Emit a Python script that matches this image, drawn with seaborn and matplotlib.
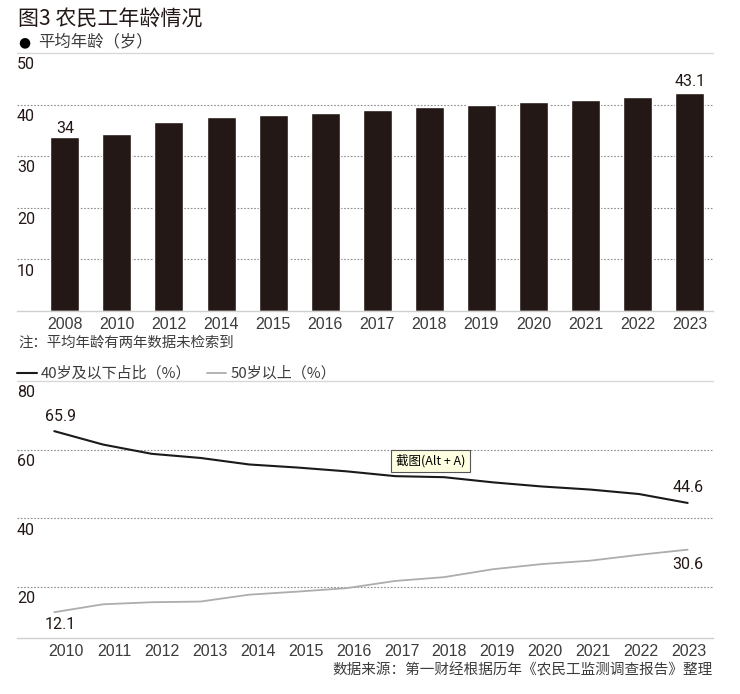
import numpy as np
import pandas as pd
import seaborn as sns
import matplotlib.pyplot as plt

# 数据
bar_years = ['2008', '2010', '2012', '2014', '2015', '2016', '2017', '2018', '2019', '2020', '2021', '2022', '2023']
avg_age = [33.8, 34.3, 36.6, 37.5, 37.9, 38.3, 39.0, 39.5, 40.0, 40.6, 40.9, 41.5, 42.2]
bar_labels = ['34', '', '', '', '', '', '', '', '', '', '', '', '43.1']
bar_ticks = [10, 20, 30, 40, 50]

line_years = [2010, 2011, 2012, 2013, 2014, 2015, 2016, 2017, 2018, 2019, 2020, 2021, 2022, 2023]
under_40 = [65.4, 61.5, 58.8, 57.6, 55.7, 54.8, 53.7, 52.3, 52.0, 50.5, 49.3, 48.4, 47.1, 44.5]
over_50 = [12.7, 15.0, 15.6, 15.8, 17.8, 18.7, 19.7, 21.8, 22.9, 25.2, 26.7, 27.7, 29.4, 30.9]
line_ticks = [20, 40, 60, 80]

sns.set_theme(style='white')
plt.rcParams['font.family'] = ['Noto Sans CJK SC', 'DejaVu Sans']

W, H = 740, 694
BLACK = '#231815'
GRID = '#8c8c8c'
NUM_FONT = 'Roboto'
YEAR_FONT = 'Liberation Sans'

fig = plt.figure(figsize=(W / 100, H / 100), dpi=100, facecolor='white')


def make_axes(top, bottom):
    return fig.add_axes([17 / W, 1 - bottom / H, (713 - 17) / W, (bottom - top) / H])


def style_axes(ax, ticks):
    for side in ['top', 'left', 'right']:
        ax.spines[side].set_visible(False)
    ax.spines['bottom'].set_color('#d0d0d0')
    ax.spines['bottom'].set_linewidth(1)
    ax.set_xlabel('')
    ax.set_ylabel('')
    ax.set_yticks([])
    ax.set_axisbelow(True)
    ax.tick_params(axis='x', length=0, pad=4, labelsize=11.5, labelcolor='#3c3c3c')
    for label in ax.get_xticklabels():
        label.set_fontfamily(YEAR_FONT)
    # 网格线与左侧数字
    for t in ticks:
        if t == ticks[-1]:
            ax.axhline(t, color='#d8d8d8', lw=1, clip_on=False)
        else:
            ax.axhline(t, color=GRID, lw=0.8, ls=(0, (1.5, 1.5)), zorder=0)
        ax.annotate(str(t), (0, t), xycoords=ax.get_yaxis_transform(), xytext=(0, -3),
                    textcoords='offset points', ha='left', va='top', fontsize=11.5,
                    fontfamily=NUM_FONT, color=BLACK, annotation_clip=False)


# 上图：平均年龄
ax1 = make_axes(53, 311)
df_bar = pd.DataFrame({'year': bar_years, 'age': avg_age})
sns.barplot(data=df_bar, x='year', y='age', color=BLACK, saturation=1, width=0.557, ax=ax1)
ax1.set_xlim(-0.918, 12.447)
ax1.set_ylim(0, 50)
style_axes(ax1, bar_ticks)
bar_texts = ax1.bar_label(ax1.containers[0], labels=bar_labels, padding=3, fontsize=11.5,
                          fontfamily=NUM_FONT, color=BLACK)
bar_texts[0].xyann = (0, 0.5)

# 下图：年龄占比
ax2 = make_axes(381, 638.3)
df_line = pd.DataFrame({'year': line_years, 'under_40': under_40, 'over_50': over_50})
sns.lineplot(data=df_line, x='year', y='under_40', color='#1a1a1a', lw=1.5, ax=ax2,
             label='40岁及以下占比（%）')
sns.lineplot(data=df_line, x='year', y='over_50', color='#adadad', lw=1.3, ax=ax2,
             label='50岁以上（%）')
ax2.set_xlim(2009.234, 2023.52)
ax2.set_ylim(5.1, 80)
ax2.set_xticks(np.linspace(2010.24, 2023.03, len(line_years)))
ax2.set_xticklabels([str(y) for y in line_years])
style_axes(ax2, line_ticks)

legend = ax2.legend(loc='lower left', bbox_to_anchor=(0, 1.0), ncol=2, frameon=False, fontsize=10.8,
                    borderaxespad=0, borderpad=0, handlelength=1.3, handletextpad=0.3,
                    columnspacing=1.0, labelcolor='#3c3c3c')


def end_label(text, year, value, dx, dy):
    ax2.annotate(text, (year, value), xytext=(dx, dy), textcoords='offset pixels', ha='center',
                 va='center', fontsize=11.5, fontfamily=NUM_FONT, color=BLACK)


end_label('65.9', line_years[0], under_40[0], 6, 15)
end_label('12.1', line_years[0], over_50[0], 6, -12)
end_label('44.6', line_years[-1], under_40[-1], 0, 15)
end_label('30.6', line_years[-1], over_50[-1], 0, -15)

# 标题与注释
fig.text(18 / W, 1 - 20 / H, '图3 农民工年龄情况', fontsize=15.1, fontweight='medium', color=BLACK, va='center')
fig.text(18 / W, 1 - 42 / H, '●', fontsize=10, color='black', va='center',
         fontfamily=['DejaVu Sans'])
fig.text(38 / W, 1 - 42 / H, '平均年龄（岁）', fontsize=11.8, color='#3c3c3c', va='center')
fig.text(18 / W, 1 - 343 / H, '注：平均年龄有两年数据未检索到', fontsize=10.4, color='#3c3c3c', va='center')
fig.text(713 / W, 1 - 670 / H, '数据来源：第一财经根据历年《农民工监测调查报告》整理', fontsize=10.5,
         color='#3c3c3c', ha='right', va='center')

# 原图上的截图提示框
fig.text(430.5 / W, 1 - 461 / H, '截图(Alt + A)', fontsize=9, color='black', ha='center', va='center',
         bbox=dict(boxstyle='square,pad=0.35', facecolor='#ffffe1', edgecolor='#555555', linewidth=0.8))

fig.savefig('out.png', dpi=100)
